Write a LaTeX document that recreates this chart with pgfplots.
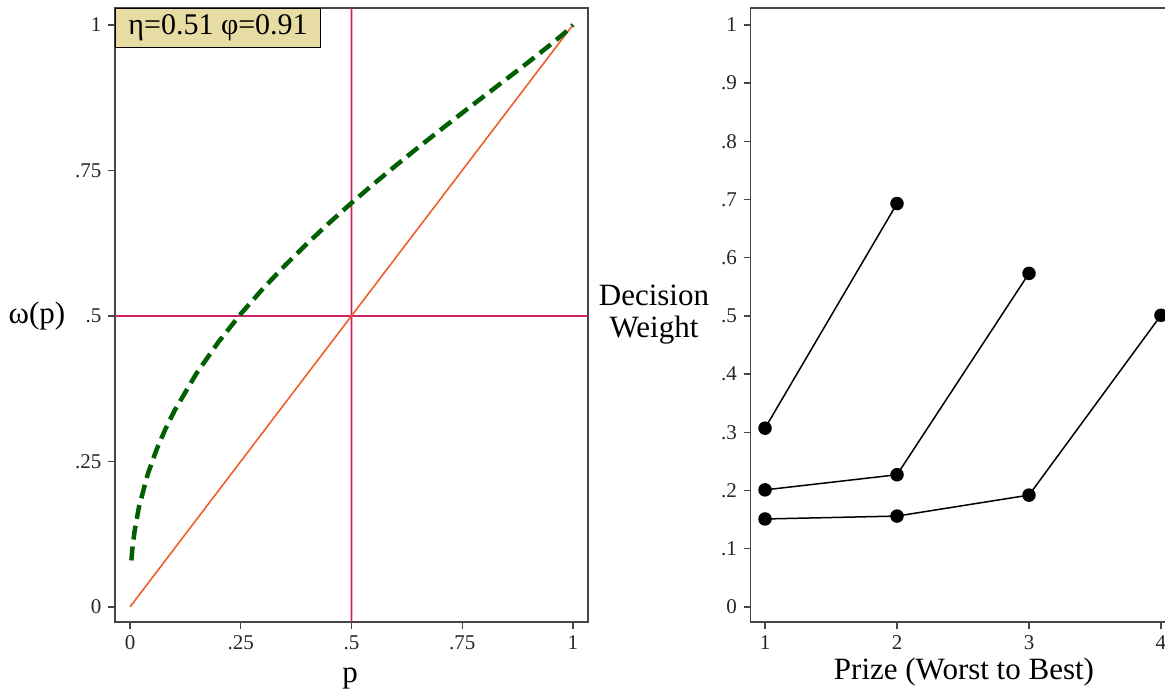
\documentclass[border=0pt]{standalone}
\usepackage{fontspec}
\setmainfont{Liberation Serif}
\usepackage{pgfplots}
\pgfplotsset{compat=1.18}
\definecolor{axisgray}{RGB}{70,70,70}
\definecolor{crim}{RGB}{205,35,100}
\definecolor{orng}{RGB}{238,95,45}
\definecolor{dkgrn}{RGB}{0,95,0}
\definecolor{sand}{RGB}{232,220,165}
\begin{document}
\begin{tikzpicture}
\useasboundingbox (0,0) rectangle (1165pt,692pt);
\begin{scope}
\clip (0,0) rectangle (1165pt,692pt);
\pgfplotsset{
  stataaxis/.style={
    scale only axis, anchor=south west,
    tick align=outside, major tick length=7pt,
    tick pos=left,
    axis line style={line width=1.6pt, axisgray},
    every tick/.style={line width=1.3pt, axisgray},
    ticklabel style={font=\fontsize{21}{24}\selectfont, color=black!85},
    /pgf/number format/assume math mode=true,
  }
}
% ---------------- left panel ----------------
\begin{axis}[stataaxis,
  at={(115pt,70pt)}, width=473pt, height=614pt,
  xmin=-0.034, xmax=1.034, ymin=-0.026, ymax=1.029,
  xtick={0,0.25,0.5,0.75,1}, xticklabels={0,.25,.5,.75,1},
  ytick={0,0.25,0.5,0.75,1}, yticklabels={0,.25,.5,.75,1},
  xticklabel style={yshift=-3pt}, yticklabel style={xshift=-3pt},
]
\addplot[crim, line width=1.8pt] coordinates {(-0.034,0.5) (1.034,0.5)};
\addplot[crim, line width=1.8pt] coordinates {(0.4999,-0.026) (0.5001,1.029)};
\addplot[orng, line width=1.6pt] coordinates {(0,0) (1,1)};
\addplot[dkgrn, line width=4.5pt, dash pattern=on 14pt off 7pt] coordinates {
(0.003,0.0798) (0.005,0.0978) (0.01,0.1291) (0.02,0.1712) (0.04,0.2282)
(0.06,0.2706) (0.08,0.3058) (0.1,0.3365) (0.15,0.4012) (0.2,0.4555)
(0.25,0.5034) (0.3,0.5467) (0.35,0.5868) (0.4,0.6244) (0.45,0.6600)
(0.5,0.6940) (0.55,0.7267) (0.6,0.7582) (0.65,0.7890) (0.7,0.8190)
(0.75,0.8487) (0.8,0.8779) (0.85,0.9070) (0.9,0.9363) (0.95,0.9664)
(0.98,0.9854) (1,1)};
\node[draw=black, line width=1.2pt, fill=sand, anchor=north west,
      minimum width=205pt, minimum height=39pt, inner sep=0pt,
      font=\fontsize{30}{31}\selectfont]
  at (rel axis cs:0,1) {η=0.51 φ=0.91};
\end{axis}
% ---------------- right panel ----------------
\begin{axis}[stataaxis,
  at={(750.5pt,70pt)}, width=425pt, height=614pt,
  xmin=0.89, xmax=4.11, ymin=-0.026, ymax=1.029,
  xtick={1,2,3,4}, xticklabels={1,2,3,4},
  ytick={0,0.1,0.2,0.3,0.4,0.5,0.6,0.7,0.8,0.9,1},
  yticklabels={0,.1,.2,.3,.4,.5,.6,.7,.8,.9,1},
  xticklabel style={yshift=-3pt}, yticklabel style={xshift=-3pt},
  clip=false,
]
\addplot[black, line width=1.5pt, mark=*, mark size=6pt, mark options={solid, fill=black}]
  coordinates {(1,0.307) (2,0.693)};
\addplot[black, line width=1.5pt, mark=*, mark size=6pt, mark options={solid, fill=black}]
  coordinates {(1,0.201) (2,0.227) (3,0.573)};
\addplot[black, line width=1.5pt, mark=*, mark size=6pt, mark options={solid, fill=black}]
  coordinates {(1,0.151) (2,0.156) (3,0.192) (4,0.501)};
\end{axis}
% ---------------- labels ----------------
\node[font=\fontsize{31}{32}\selectfont, anchor=base] at (350pt,9pt) {p};
\node[font=\fontsize{31}{32}\selectfont] at (37pt,376pt) {ω(p)};
\node[font=\fontsize{31}{32}\selectfont, align=center] at (654pt,377pt) {Decision\\Weight};
\node[font=\fontsize{31}{32}\selectfont, anchor=base] at (964pt,12pt) {Prize (Worst to Best)};
\end{scope}
\end{tikzpicture}
\end{document}
